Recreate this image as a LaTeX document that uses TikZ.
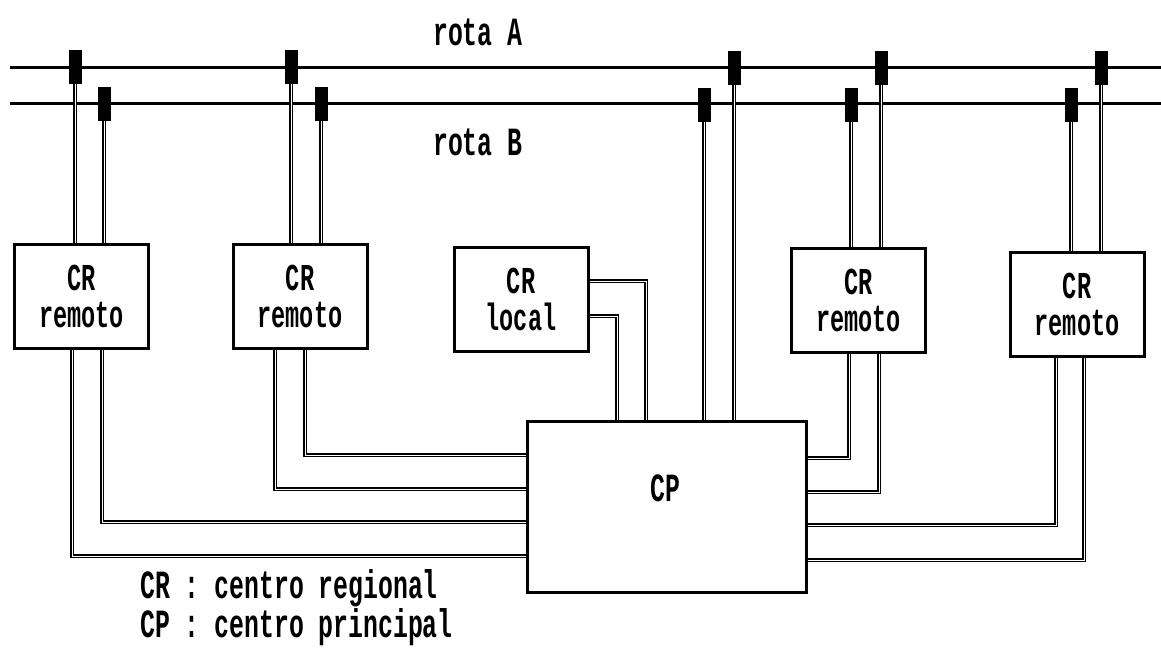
\documentclass[tikz,border=0pt]{standalone}
\usepackage{fontspec}
\newfontfamily\reffont[FakeStretch=0.62]{Liberation Mono}
\begin{document}
\begin{tikzpicture}[x=1pt,y=-1pt,
  rota/.style={line width=3pt},
  conn/.style={line width=1.3pt, double=white, double distance=0.8pt},
  tap/.style={fill=black, minimum width=13pt, minimum height=34pt, inner sep=0pt},
  crbox/.style={draw, line width=3pt, fill=white, minimum width=134pt, minimum height=104pt, inner sep=0pt, align=center, font=\reffont\bfseries\fontsize{38}{37}\selectfont},
  txt/.style={font=\reffont\bfseries\fontsize{40}{30}\selectfont, inner sep=0pt},
  legtxt/.style={font=\reffont\bfseries\fontsize{40}{32}\selectfont, inner sep=0pt, align=left}]
\useasboundingbox (0,0) rectangle (1161,648);
\fill[white] (0,0) rectangle (1161,648);
% routes
\coordinate (aW) at (10,67); \coordinate (aE) at (1161,67);
\coordinate (bW) at (10,103); \coordinate (bE) at (1161,103);
\draw[rota] (aW) -- (aE);
\draw[rota] (bW) -- (bE);
\node[txt, anchor=base west] (rotaA) at (433,45) {rota A};
\node[txt, anchor=base west] (rotaB) at (433,155) {rota B};
% boxes
\node[crbox] (cr1) at (81.5,296.5) {CR\\remoto};
\node[crbox] (cr2) at (300,296.5) {CR\\remoto};
\node[crbox] (crl) at (521,299) {CR\\local};
\node[crbox] (cr4) at (858.5,300.5) {CR\\remoto};
\node[crbox] (cr5) at (1077,304) {CR\\remoto};
\node[draw, line width=3pt, minimum width=279pt, minimum height=171pt, inner sep=0pt] (cp) at (666.5,506.5) {};
\node[txt] (cpt) at (665,488) {CP};
% taps
\node[tap] (ta1) at (75,67) {};   \node[tap] (tb1) at (104,104) {};
\node[tap] (ta2) at (291,67) {};  \node[tap] (tb2) at (321,104) {};
\node[tap] (ta3) at (734,68) {};  \node[tap] (tb3) at (704,105) {};
\node[tap] (ta4) at (881,68) {};  \node[tap] (tb4) at (851,105) {};
\node[tap] (ta5) at (1101,68) {}; \node[tap] (tb5) at (1071,105) {};
% connectors from routes
\foreach \t/\b in {ta1/cr1, tb1/cr1, ta2/cr2, tb2/cr2, ta3/cp, tb3/cp, ta4/cr4, tb4/cr4, ta5/cr5, tb5/cr5}
  \draw[conn] (\t.south) -- (\t.south |- \b.north);
% connectors to CP
\draw[conn] ([xshift=-9.5pt]cr1.south) |- (cp.west |- 0,556);
\draw[conn] ([xshift=20.5pt]cr1.south) |- (cp.west |- 0,522);
\draw[conn] ([xshift=-25pt]cr2.south) |- (cp.west |- 0,489);
\draw[conn] ([xshift=5pt]cr2.south) |- (cp.west |- 0,455);
\draw[conn] (crl.east |- 0,281) -| (cp.north -| 646,0);
\draw[conn] (crl.east |- 0,316) -| (cp.north -| 617,0);
\draw[conn] ([xshift=-9.5pt]cr4.south) |- (cp.east |- 0,458);
\draw[conn] ([xshift=20.5pt]cr4.south) |- (cp.east |- 0,492);
\draw[conn] ([xshift=-21pt]cr5.south) |- (cp.east |- 0,525);
\draw[conn] ([xshift=7pt]cr5.south) |- (cp.east |- 0,560);
% legend
\node[legtxt, anchor=base west] (leg) at (140,637) {CR : centro regional\\CP : centro principal};
\end{tikzpicture}
\end{document}
